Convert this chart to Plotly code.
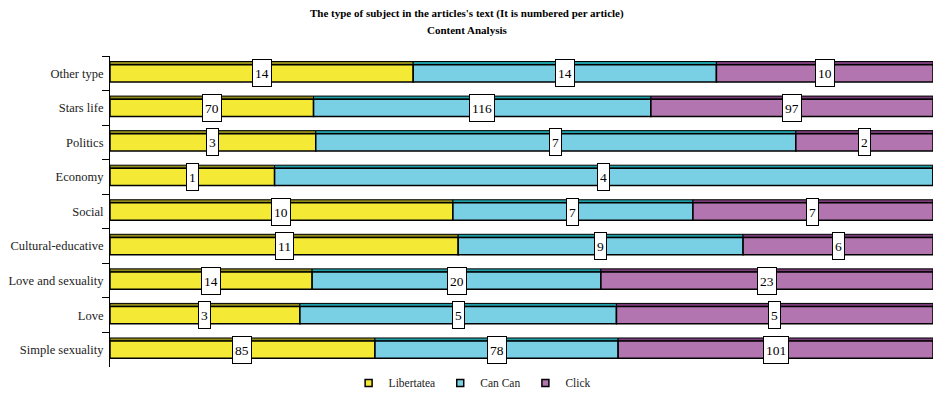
import numpy as np
import plotly.graph_objects as go

categories = ["Other type", "Stars life", "Politics", "Economy", "Social",
              "Cultural-educative", "Love and sexuality", "Love", "Simple sexuality"]
libertatea = [14, 70, 3, 1, 10, 11, 14, 3, 85]
can_can = [14, 116, 7, 4, 7, 9, 20, 5, 78]
click = [10, 97, 2, 0, 7, 6, 23, 5, 101]

series_names = ["Libertatea", "Can Can", "Click"]
series_vals = [libertatea, can_can, click]
front_colors = ["#F4EA36", "#79CFE4", "#B275AF"]
top_colors = ["#8F8A1A", "#1E9FA8", "#7B3C7A"]

vals = np.array(series_vals, dtype=float)
totals = vals.sum(axis=0)
pct = vals / totals * 100.0
bases = np.vstack([np.zeros(len(categories)), np.cumsum(pct, axis=0)[:-1]])

font_family = "Liberation Serif, Times New Roman, serif"
fig = go.Figure()

for i, name in enumerate(series_names):
    # top face (3D effect)
    fig.add_trace(go.Bar(
        y=categories, x=pct[i], base=bases[i], orientation="h",
        width=0.09, offset=-0.34,
        marker=dict(color=top_colors[i], line=dict(color="black", width=1)),
        showlegend=False, hoverinfo="skip"))
    # front face
    fig.add_trace(go.Bar(
        y=categories, x=pct[i], base=bases[i], orientation="h", name=name,
        width=0.5, offset=-0.25, showlegend=False,
        marker=dict(color=front_colors[i], line=dict(color="black", width=1.5))))

# legend entries (small squares)
for i, name in enumerate(series_names):
    fig.add_trace(go.Scatter(
        x=[None], y=[None], mode="markers", name=name,
        marker=dict(symbol="square", size=7, color=front_colors[i],
                    line=dict(color="black", width=1.5))))

annotations = []
for i in range(len(series_names)):
    for j, cat in enumerate(categories):
        v = series_vals[i][j]
        if v == 0:
            continue
        annotations.append(dict(
            x=bases[i][j] + pct[i][j] / 2, y=cat, xref="x", yref="y",
            text=str(v), showarrow=False, yshift=0, height=22,
            font=dict(family=font_family, size=13.5, color="black"),
            bgcolor="white", bordercolor="black", borderwidth=1, borderpad=2))

fig.update_layout(
    width=935, height=394,
    margin=dict(l=110, r=2, t=56, b=27),
    paper_bgcolor="white", plot_bgcolor="white",
    barmode="overlay",
    font=dict(family=font_family, size=12, color="#222"),
    xaxis=dict(range=[0, 100], visible=False, fixedrange=True),
    yaxis=dict(autorange="reversed", showline=True, linecolor="black", linewidth=1,
               ticks="outside", ticklen=7, tickcolor="black", tickson="boundaries",
               ticklabelstandoff=3,
               showgrid=False, tickfont=dict(family=font_family, size=12.5, color="#222")),
    legend=dict(orientation="h", x=0.44, xanchor="center", y=0.028, yanchor="middle",
                yref="container",
                font=dict(family=font_family, size=11.5, color="#222"),
                itemwidth=30, tracegroupgap=0),
    annotations=annotations,
)

# titles as paper-positioned text
title_lines = ["The type of subject in the articles's text (It is numbered per article)",
               "Content Analysis"]
plot_h = 394 - 56 - 27
for k, line in enumerate(title_lines):
    fig.add_annotation(
        text="<b>" + line + "</b>", showarrow=False,
        xref="paper", x=(467 - 110) / (935 - 112), xanchor="center",
        yref="paper", y=1 + (56 - 13 - 17 * k) / plot_h, yanchor="middle",
        font=dict(family=font_family, size=11, color="black"))

fig.write_html("out.html")
